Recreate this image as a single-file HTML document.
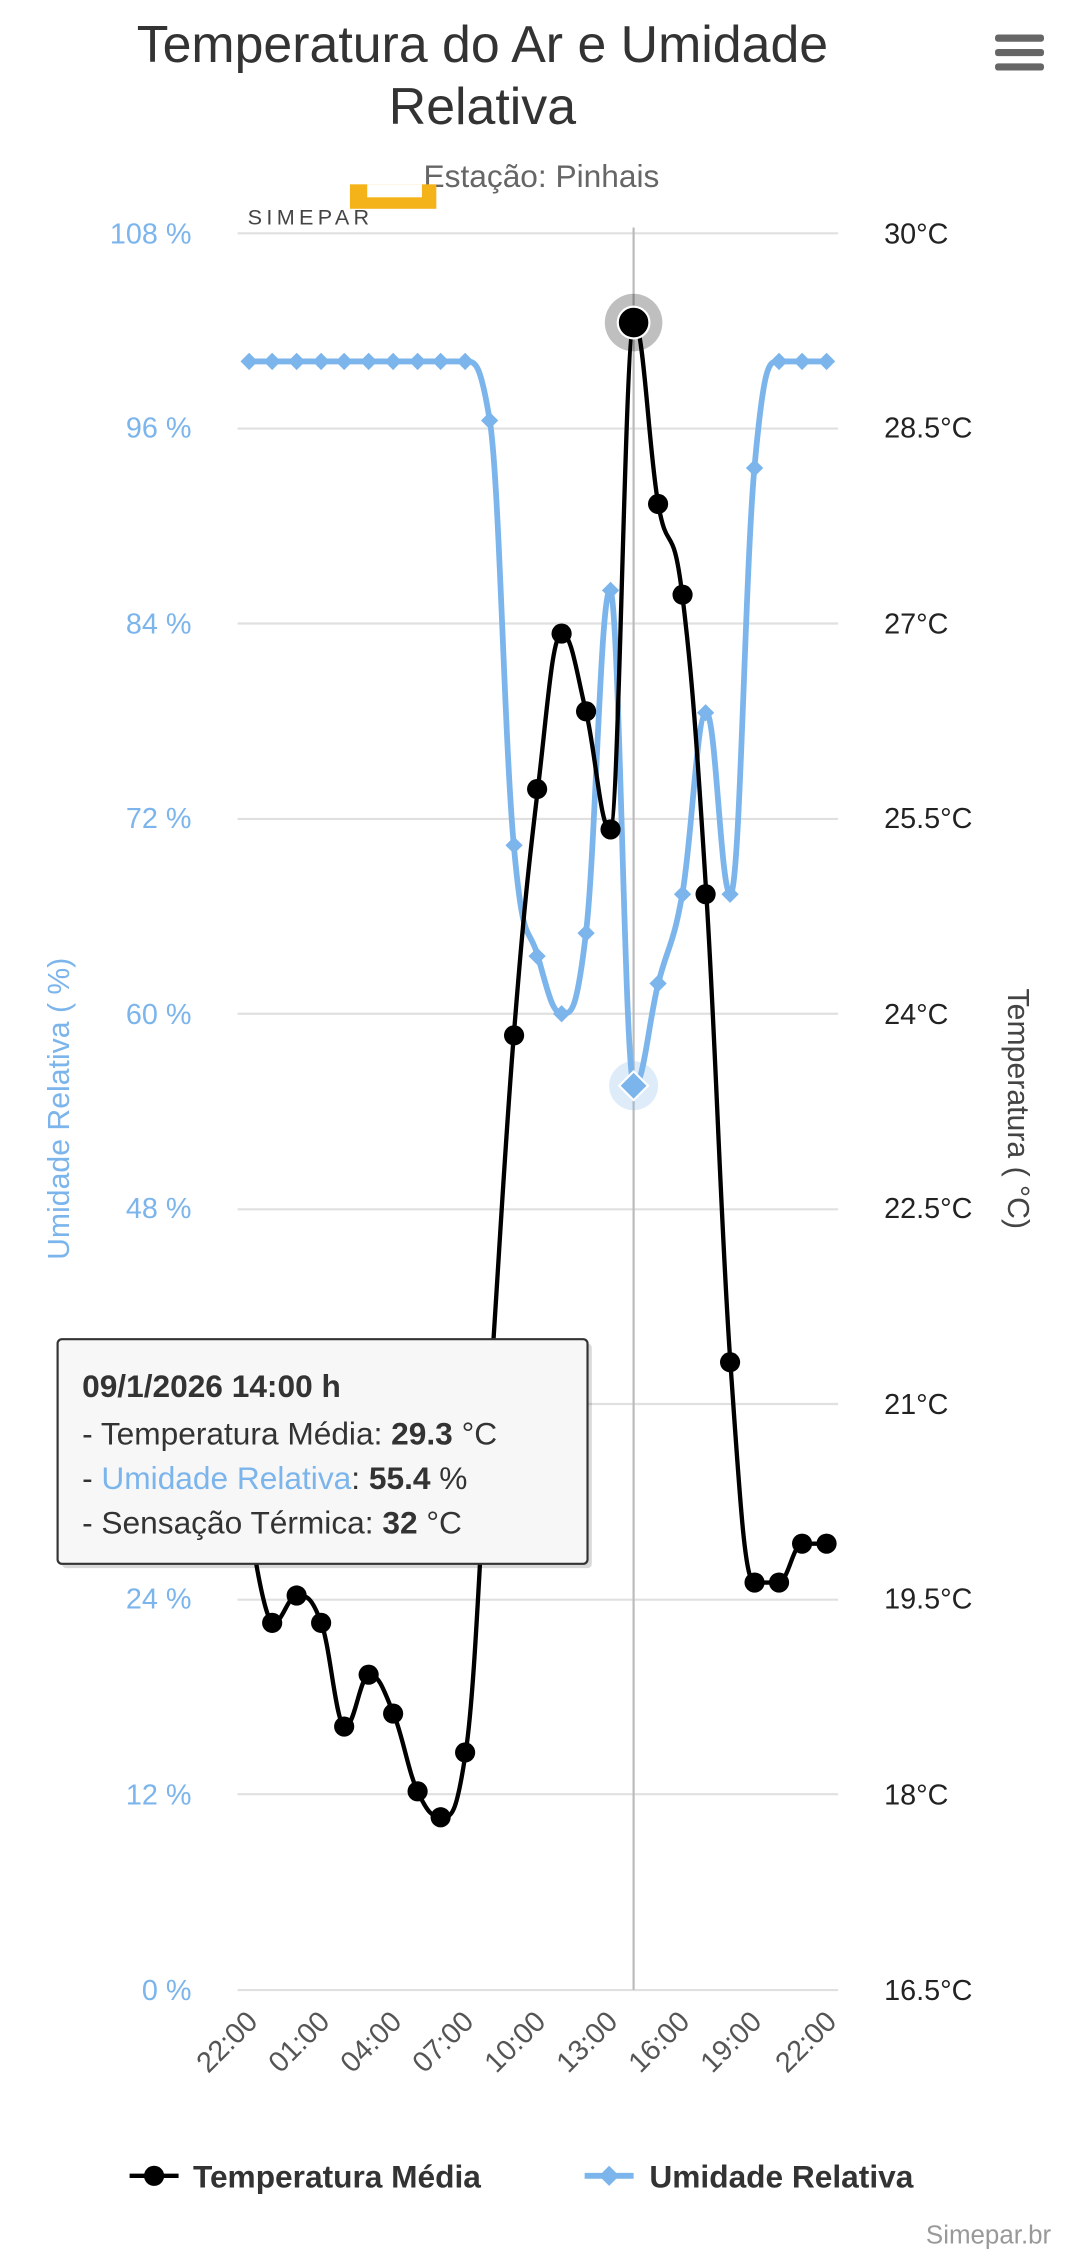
<!DOCTYPE html>
<html><head><meta charset="utf-8"><style>
html,body{margin:0;padding:0;background:#fff}
svg{display:block}
text{font-family:"Liberation Sans",sans-serif}
</style></head><body>
<svg width="1080" height="2253" viewBox="0 0 750 1564.6" xmlns="http://www.w3.org/2000/svg">
<rect width="750" height="1565" fill="#fff"/>
<text x="335" y="43" font-size="36" fill="#333" text-anchor="middle">Temperatura do Ar e Umidade</text>
<text x="335" y="86" font-size="36" fill="#333" text-anchor="middle">Relativa</text>
<text x="376" y="130" font-size="22" fill="#666" text-anchor="middle">Estação: Pinhais</text>
<g fill="#666"><rect x="691" y="24" width="34" height="5" rx="2"/><rect x="691" y="34" width="34" height="5" rx="2"/><rect x="691" y="44" width="34" height="5" rx="2"/></g>
<rect x="243" y="128" width="60" height="17" fill="#f5b31a"/>
<rect x="255" y="128" width="38" height="9" fill="#fff"/>
<text x="172" y="156" font-size="15" fill="#444" letter-spacing="3" font-family="Liberation Mono">SIMEPAR</text>
<g stroke="#e0e0e0" stroke-width="1.5">
<line x1="165" x2="582" y1="162" y2="162"/><line x1="165" x2="582" y1="297.6" y2="297.6"/><line x1="165" x2="582" y1="433" y2="433"/><line x1="165" x2="582" y1="568.7" y2="568.7"/><line x1="165" x2="582" y1="704" y2="704"/><line x1="165" x2="582" y1="839.8" y2="839.8"/><line x1="165" x2="582" y1="975" y2="975"/><line x1="165" x2="582" y1="1110.9" y2="1110.9"/><line x1="165" x2="582" y1="1246" y2="1246"/><line x1="165" x2="582" y1="1382" y2="1382"/>
</g>
<line x1="440" x2="440" y1="158" y2="1382" stroke="#bbb" stroke-width="1.5"/>
<g font-size="20" fill="#7cb5ec" text-anchor="end">
<text x="133" y="169">108 %</text><text x="133" y="304">96 %</text><text x="133" y="440">84 %</text><text x="133" y="575">72 %</text><text x="133" y="711">60 %</text><text x="133" y="846">48 %</text><text x="133" y="982">36 %</text><text x="133" y="1117">24 %</text><text x="133" y="1253">12 %</text><text x="133" y="1389">0 %</text>
</g>
<g font-size="20" fill="#222">
<text x="614" y="169">30°C</text><text x="614" y="304">28.5°C</text><text x="614" y="440">27°C</text><text x="614" y="575">25.5°C</text><text x="614" y="711">24°C</text><text x="614" y="846">22.5°C</text><text x="614" y="982">21°C</text><text x="614" y="1117">19.5°C</text><text x="614" y="1253">18°C</text><text x="614" y="1389">16.5°C</text>
</g>
<text transform="translate(48,770) rotate(-90)" font-size="21" fill="#7cb5ec" text-anchor="middle">Umidade Relativa ( %)</text>
<text transform="translate(700,770) rotate(90)" font-size="21" fill="#444" text-anchor="middle">Temperatura ( °C)</text>
<g font-size="20" fill="#555" text-anchor="end">
<text transform="translate(180,1405) rotate(-45)">22:00</text>
<text transform="translate(230,1405) rotate(-45)">01:00</text>
<text transform="translate(280,1405) rotate(-45)">04:00</text>
<text transform="translate(330,1405) rotate(-45)">07:00</text>
<text transform="translate(380,1405) rotate(-45)">10:00</text>
<text transform="translate(430,1405) rotate(-45)">13:00</text>
<text transform="translate(480,1405) rotate(-45)">16:00</text>
<text transform="translate(530,1405) rotate(-45)">19:00</text>
<text transform="translate(582,1405) rotate(-45)">22:00</text>
</g>
<path id="hum" fill="none" stroke="#7cb5ec" stroke-width="4" stroke-linejoin="round" d="M173 251L323 251L340 292L357 587L373 664L390 704L407 648L424 410L440 754L457 683L474 621L490 495L507 621L524 325L541 251L574 251"/>
<g fill="#7cb5ec">
<path d="M173 245l6 6-6 6-6-6z"/><path d="M189 245l6 6-6 6-6-6z"/><path d="M206 245l6 6-6 6-6-6z"/><path d="M223 245l6 6-6 6-6-6z"/><path d="M239 245l6 6-6 6-6-6z"/><path d="M256 245l6 6-6 6-6-6z"/><path d="M273 245l6 6-6 6-6-6z"/><path d="M290 245l6 6-6 6-6-6z"/><path d="M306 245l6 6-6 6-6-6z"/><path d="M323 245l6 6-6 6-6-6z"/><path d="M340 286l6 6-6 6-6-6z"/><path d="M357 581l6 6-6 6-6-6z"/><path d="M373 658l6 6-6 6-6-6z"/><path d="M390 698l6 6-6 6-6-6z"/><path d="M407 642l6 6-6 6-6-6z"/><path d="M424 404l6 6-6 6-6-6z"/><path d="M457 677l6 6-6 6-6-6z"/><path d="M474 615l6 6-6 6-6-6z"/><path d="M490 489l6 6-6 6-6-6z"/><path d="M507 615l6 6-6 6-6-6z"/><path d="M524 319l6 6-6 6-6-6z"/><path d="M541 245l6 6-6 6-6-6z"/><path d="M557 245l6 6-6 6-6-6z"/><path d="M574 245l6 6-6 6-6-6z"/>
</g>
<circle cx="440" cy="754" r="17" fill="#7cb5ec" opacity="0.25"/>
<path d="M440 744l10 10-10 10-10-10z" fill="#7cb5ec" stroke="#fff" stroke-width="1.5"/>
<path id="tmp" fill="none" stroke="#000" stroke-width="3" stroke-linejoin="round" d="M173 1055L189 1127L206 1108L223 1127L239 1199L256 1163L273 1190L290 1244L306 1262L323 1217L340 970L357 719L373 548L390 440L407 494L424 576L440 224L457 350L474 413L490 621L507 946L524 1099L541 1099L557 1072L574 1072"/>
<g fill="#000">
<circle cx="173" cy="1055" r="7"/><circle cx="189" cy="1127" r="7"/><circle cx="206" cy="1108" r="7"/><circle cx="223" cy="1127" r="7"/><circle cx="239" cy="1199" r="7"/><circle cx="256" cy="1163" r="7"/><circle cx="273" cy="1190" r="7"/><circle cx="290" cy="1244" r="7"/><circle cx="306" cy="1262" r="7"/><circle cx="323" cy="1217" r="7"/><circle cx="357" cy="719" r="7"/><circle cx="373" cy="548" r="7"/><circle cx="390" cy="440" r="7"/><circle cx="407" cy="494" r="7"/><circle cx="424" cy="576" r="7"/><circle cx="457" cy="350" r="7"/><circle cx="474" cy="413" r="7"/><circle cx="490" cy="621" r="7"/><circle cx="507" cy="946" r="7"/><circle cx="524" cy="1099" r="7"/><circle cx="541" cy="1099" r="7"/><circle cx="557" cy="1072" r="7"/><circle cx="574" cy="1072" r="7"/>
</g>
<circle cx="440" cy="224" r="20" fill="#000" opacity="0.25"/>
<circle cx="440" cy="224" r="11" fill="#000" stroke="#fff" stroke-width="1.5"/>
<rect x="43" y="933" width="368" height="156" fill="#000" opacity="0.15" rx="3"/>
<rect x="40" y="930" width="368" height="156" fill="#f7f7f7" stroke="#333" stroke-width="1.5" rx="3"/>
<text x="57" y="970" font-size="22" font-weight="bold" fill="#333">09/1/2026 14:00 h</text>
<text x="57" y="1003" font-size="22" fill="#333">- Temperatura Média: <tspan font-weight="bold">29.3</tspan> °C</text>
<text x="57" y="1034" font-size="22" fill="#333">- <tspan fill="#7cb5ec">Umidade Relativa</tspan>: <tspan font-weight="bold">55.4</tspan> %</text>
<text x="57" y="1065" font-size="22" fill="#333">- Sensação Térmica: <tspan font-weight="bold">32</tspan> °C</text>
<line x1="90" x2="124" y1="1511" y2="1511" stroke="#000" stroke-width="3"/>
<circle cx="107" cy="1511" r="7" fill="#000"/>
<text x="134" y="1519" font-size="22" font-weight="bold" fill="#333">Temperatura Média</text>
<line x1="406" x2="440" y1="1511" y2="1511" stroke="#7cb5ec" stroke-width="4"/>
<path d="M423 1504l7 7-7 7-7-7z" fill="#7cb5ec"/>
<text x="451" y="1519" font-size="22" font-weight="bold" fill="#333">Umidade Relativa</text>
<text x="730" y="1558" font-size="18" fill="#999" text-anchor="end">Simepar.br</text>
</svg>
<script>
function sp(ys){var x0=173,st=16.71,p=[];for(var i=0;i<ys.length;i++)p.push([x0+i*st,ys[i]]);
var s=1.5,d="M"+p[0][0]+" "+p[0][1];
function ctl(i){if(i<=0||i>=p.length-1)return null;var a=p[i-1],b=p[i],c=p[i+1];
var lx=(s*b[0]+a[0])/(s+1),ly=(s*b[1]+a[1])/(s+1),rx=(s*b[0]+c[0])/(s+1),ry=(s*b[1]+c[1])/(s+1);
var cor=0;if(rx!=lx)cor=((ry-ly)*(rx-b[0]))/(rx-lx)+b[1]-ry;ly+=cor;ry+=cor;
if(ly>a[1]&&ly>b[1]){ly=Math.max(a[1],b[1]);ry=2*b[1]-ly;}else if(ly<a[1]&&ly<b[1]){ly=Math.min(a[1],b[1]);ry=2*b[1]-ly;}
if(ry>c[1]&&ry>b[1]){ry=Math.max(c[1],b[1]);ly=2*b[1]-ry;}else if(ry<c[1]&&ry<b[1]){ry=Math.min(c[1],b[1]);ly=2*b[1]-ry;}
return [lx,ly,rx,ry];}
for(var i=1;i<p.length;i++){var c1=ctl(i-1),c2=ctl(i);
var ax=c1?c1[2]:p[i-1][0],ay=c1?c1[3]:p[i-1][1],bx=c2?c2[0]:p[i][0],by=c2?c2[1]:p[i][1];
d+="C"+ax.toFixed(1)+" "+ay.toFixed(1)+" "+bx.toFixed(1)+" "+by.toFixed(1)+" "+p[i][0].toFixed(1)+" "+p[i][1];}
return d;}
try{
document.getElementById("tmp").setAttribute("d",sp([1055,1127,1108,1127,1199,1163,1190,1244,1262,1217,970,719,548,440,494,576,224,350,413,621,946,1099,1099,1072,1072]));
document.getElementById("hum").setAttribute("d",sp([251,251,251,251,251,251,251,251,251,251,292,587,664,704,648,410,754,683,621,495,621,325,251,251,251]));
}catch(e){}
</script>
</body></html>
